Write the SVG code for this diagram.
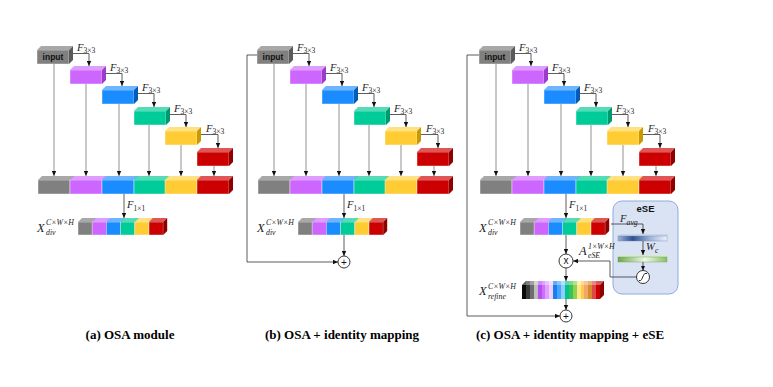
<svg xmlns="http://www.w3.org/2000/svg" xmlns:xlink="http://www.w3.org/1999/xlink" width="773" height="387" viewBox="0 0 773 387">
<style>
.gf{fill:#808080}.gt{fill:#a8a8a8}.gs{fill:#5a5a5a}
.pf{fill:#cc66ff}.pt{fill:#df9dff}.ps{fill:#9a3ccc}
.bf{fill:#1a8cff}.bt{fill:#6db6ff}.bs{fill:#005cb8}
.ef{fill:#00cc99}.et{fill:#55dbb6}.es{fill:#00996e}
.yf{fill:#ffcc33}.yt{fill:#ffe17f}.ys{fill:#c99a00}
.rf{fill:#cc0000}.rt{fill:#e05555}.rs{fill:#8c0000}
.fr{stroke:#ffffff;stroke-width:.6;stroke-opacity:.7}
.ln{stroke:#333;stroke-width:.8;fill:none}
.lv{stroke:#777;stroke-width:.8;fill:none}
.m{marker-end:url(#ah)}
.it{font-family:"Liberation Serif",serif;font-style:italic;fill:#222}
.f9{font-size:10.5px}
.f11{font-size:12.5px}
.sb{font-family:"Liberation Serif",serif;font-size:7.5px;fill:#222}
.ss{font-family:"Liberation Serif",serif;font-style:italic;font-size:7.8px;fill:#222}
.inp{font-family:"Liberation Sans",Arial,sans-serif;font-weight:bold;font-size:8.5px;text-anchor:middle;fill:#111}
.cap{font-family:"Liberation Serif",serif;font-weight:bold;font-size:13px;text-anchor:middle;fill:#000}
.op{fill:#fff;stroke:#222;stroke-width:.9}
.opt{font-family:"Liberation Sans",Arial,sans-serif;font-size:10px;text-anchor:middle;fill:#111}
</style>
<defs>
<marker id="ah" viewBox="0 0 8 8" refX="8" refY="4" markerWidth="5" markerHeight="5" markerUnits="userSpaceOnUse" orient="auto"><path d="M0,0.5 L8,4 L0,7.5 z" fill="#111"/></marker>
<g id="Bg"><rect class="gf fr" width="32" height="14"/><polygon class="gt" points="0,0 4,-4 36,-4 32,0"/><polygon class="gs" points="32,0 36,-4 36,10 32,14"/></g>
<g id="Bp"><rect class="pf fr" width="32" height="14"/><polygon class="pt" points="0,0 4,-4 36,-4 32,0"/><polygon class="ps" points="32,0 36,-4 36,10 32,14"/></g>
<g id="Bb"><rect class="bf fr" width="32" height="14"/><polygon class="bt" points="0,0 4,-4 36,-4 32,0"/><polygon class="bs" points="32,0 36,-4 36,10 32,14"/></g>
<g id="Be"><rect class="ef fr" width="32" height="14"/><polygon class="et" points="0,0 4,-4 36,-4 32,0"/><polygon class="es" points="32,0 36,-4 36,10 32,14"/></g>
<g id="By"><rect class="yf fr" width="32" height="14"/><polygon class="yt" points="0,0 4,-4 36,-4 32,0"/><polygon class="ys" points="32,0 36,-4 36,10 32,14"/></g>
<g id="Br"><rect class="rf fr" width="32" height="14"/><polygon class="rt" points="0,0 4,-4 36,-4 32,0"/><polygon class="rs" points="32,0 36,-4 36,10 32,14"/></g>
<g id="Sg"><rect class="gf fr" width="14.2" height="13"/><polygon class="gt" points="0,0 4,-4 18.2,-4 14.2,0"/><polygon class="gs" points="14.2,0 18.2,-4 18.2,9 14.2,13"/></g>
<g id="Sp"><rect class="pf fr" width="14.2" height="13"/><polygon class="pt" points="0,0 4,-4 18.2,-4 14.2,0"/><polygon class="ps" points="14.2,0 18.2,-4 18.2,9 14.2,13"/></g>
<g id="Sb"><rect class="bf fr" width="14.2" height="13"/><polygon class="bt" points="0,0 4,-4 18.2,-4 14.2,0"/><polygon class="bs" points="14.2,0 18.2,-4 18.2,9 14.2,13"/></g>
<g id="Se"><rect class="ef fr" width="14.2" height="13"/><polygon class="et" points="0,0 4,-4 18.2,-4 14.2,0"/><polygon class="es" points="14.2,0 18.2,-4 18.2,9 14.2,13"/></g>
<g id="Sy"><rect class="yf fr" width="14.2" height="13"/><polygon class="yt" points="0,0 4,-4 18.2,-4 14.2,0"/><polygon class="ys" points="14.2,0 18.2,-4 18.2,9 14.2,13"/></g>
<g id="Sr"><rect class="rf fr" width="14.2" height="13"/><polygon class="rt" points="0,0 4,-4 18.2,-4 14.2,0"/><polygon class="rs" points="14.2,0 18.2,-4 18.2,9 14.2,13"/></g>
<linearGradient id="refg" gradientUnits="userSpaceOnUse" x1="522" y1="0" x2="600" y2="0">
<stop offset="0" stop-color="#0a0a0a"/><stop offset=".05" stop-color="#0a0a0a"/>
<stop offset=".05" stop-color="#3a3a3a"/><stop offset=".1" stop-color="#3a3a3a"/>
<stop offset=".1" stop-color="#6e6e6e"/><stop offset=".15" stop-color="#6e6e6e"/>
<stop offset=".15" stop-color="#bdbdbd"/><stop offset=".2" stop-color="#bdbdbd"/>
<stop offset=".2" stop-color="#b84ef0"/><stop offset=".25" stop-color="#b84ef0"/>
<stop offset=".25" stop-color="#cc70ff"/><stop offset=".3" stop-color="#cc70ff"/>
<stop offset=".3" stop-color="#e0a0ff"/><stop offset=".35" stop-color="#e0a0ff"/>
<stop offset=".35" stop-color="#f2ccff"/><stop offset=".4" stop-color="#f2ccff"/>
<stop offset=".4" stop-color="#1580f0"/><stop offset=".45" stop-color="#1580f0"/>
<stop offset=".45" stop-color="#45a5ff"/><stop offset=".5" stop-color="#45a5ff"/>
<stop offset=".5" stop-color="#90ccff"/><stop offset=".55" stop-color="#90ccff"/>
<stop offset=".55" stop-color="#00c48a"/><stop offset=".6" stop-color="#00c48a"/>
<stop offset=".6" stop-color="#3cc05a"/><stop offset=".65" stop-color="#3cc05a"/>
<stop offset=".65" stop-color="#8fd24e"/><stop offset=".7" stop-color="#8fd24e"/>
<stop offset=".7" stop-color="#ffe68a"/><stop offset=".75" stop-color="#ffe68a"/>
<stop offset=".75" stop-color="#ffc94a"/><stop offset=".8" stop-color="#ffc94a"/>
<stop offset=".8" stop-color="#f0a868"/><stop offset=".85" stop-color="#f0a868"/>
<stop offset=".85" stop-color="#d9892e"/><stop offset=".9" stop-color="#d9892e"/>
<stop offset=".9" stop-color="#e04848"/><stop offset=".95" stop-color="#e04848"/>
<stop offset=".95" stop-color="#c80000"/><stop offset="1" stop-color="#c80000"/>
</linearGradient>
<linearGradient id="blueg" x1="0" y1="0" x2="1" y2="0">
<stop offset="0" stop-color="#9fb4d8"/><stop offset=".3" stop-color="#2f4f8f"/><stop offset=".65" stop-color="#9db3da"/><stop offset="1" stop-color="#eef2fa"/>
</linearGradient>
<linearGradient id="greeng" x1="0" y1="0" x2="1" y2="0">
<stop offset="0" stop-color="#6aa84f"/><stop offset=".55" stop-color="#eef8e8"/><stop offset="1" stop-color="#88bf66"/>
</linearGradient>
</defs>

<!-- ================= Panel (a) ================= -->
<g id="panel-a">
<g id="a-input" transform="translate(37,50)"><use href="#Bg"/><text class="inp" x="16" y="10">input</text></g>
<g id="a-conv1"><use href="#Bp" x="70" y="70"/></g>
<g id="a-conv2"><use href="#Bb" x="102" y="90"/></g>
<g id="a-conv3"><use href="#Be" x="134" y="111"/></g>
<g id="a-conv4"><use href="#By" x="165" y="131"/></g>
<g id="a-conv5"><use href="#Br" x="197" y="152"/></g>
<g id="a-concat"><use href="#Bg" x="38" y="180"/><use href="#Bp" x="70" y="180"/><use href="#Bb" x="102" y="180"/><use href="#Be" x="134" y="180"/><use href="#By" x="165" y="180"/><use href="#Br" x="197" y="180"/></g>
<g id="a-xdiv"><use href="#Sg" x="78" y="222"/><use href="#Sp" x="92.2" y="222"/><use href="#Sb" x="106.4" y="222"/><use href="#Se" x="120.6" y="222"/><use href="#Sy" x="134.8" y="222"/><use href="#Sr" x="149" y="222"/>
<text class="it f11" x="37" y="232">X</text><text class="ss" x="46" y="225">C×W×H</text><text class="ss" x="46" y="235">div</text></g>
<g id="a-connectors">
<path class="lv m" d="M54,64 V176"/><path class="lv m" d="M86,84 V176"/><path class="lv m" d="M119,104 V176"/><path class="lv m" d="M149,125 V176"/><path class="lv m" d="M181,145 V176"/><path class="lv m" d="M214,166 V176"/>
<path class="ln m" d="M73,53.5 H89 V66"/><path class="ln m" d="M106,73.5 H122 V86"/><path class="ln m" d="M138,93.5 H154 V107"/><path class="ln m" d="M170,114.5 H186 V127"/><path class="ln m" d="M201,134.5 H218 V148"/>
<path class="ln m" d="M124,194 V218"/>
<text class="it f9" x="77" y="50.5">F</text><text class="sb" x="83.5" y="53">3×3</text>
<text class="it f9" x="110" y="70.5">F</text><text class="sb" x="116.5" y="73">3×3</text>
<text class="it f9" x="142" y="90.5">F</text><text class="sb" x="148.5" y="93">3×3</text>
<text class="it f9" x="174" y="111.5">F</text><text class="sb" x="180.5" y="114">3×3</text>
<text class="it f9" x="206" y="131.5">F</text><text class="sb" x="212.5" y="134">3×3</text>
<text class="it f9" x="127" y="208">F</text><text class="sb" x="133.5" y="210.5">1×1</text>
</g>
</g>

<!-- ================= Panel (b) ================= -->
<g id="panel-b" transform="translate(220,0)">
<g id="b-input" transform="translate(37,50)"><use href="#Bg"/><text class="inp" x="16" y="10">input</text></g>
<g id="b-conv1"><use href="#Bp" x="70" y="70"/></g>
<g id="b-conv2"><use href="#Bb" x="102" y="90"/></g>
<g id="b-conv3"><use href="#Be" x="134" y="111"/></g>
<g id="b-conv4"><use href="#By" x="165" y="131"/></g>
<g id="b-conv5"><use href="#Br" x="197" y="152"/></g>
<g id="b-concat"><use href="#Bg" x="38" y="180"/><use href="#Bp" x="70" y="180"/><use href="#Bb" x="102" y="180"/><use href="#Be" x="134" y="180"/><use href="#By" x="165" y="180"/><use href="#Br" x="197" y="180"/></g>
<g id="b-xdiv"><use href="#Sg" x="78" y="222"/><use href="#Sp" x="92.2" y="222"/><use href="#Sb" x="106.4" y="222"/><use href="#Se" x="120.6" y="222"/><use href="#Sy" x="134.8" y="222"/><use href="#Sr" x="149" y="222"/>
<text class="it f11" x="37" y="232">X</text><text class="ss" x="46" y="225">C×W×H</text><text class="ss" x="46" y="235">div</text></g>
<g id="b-add"><circle class="op" cx="124" cy="262" r="6"/><text class="opt" x="124" y="265.5">+</text></g>
<g id="b-connectors">
<path class="lv m" d="M54,64 V176"/><path class="lv m" d="M86,84 V176"/><path class="lv m" d="M119,104 V176"/><path class="lv m" d="M149,125 V176"/><path class="lv m" d="M181,145 V176"/><path class="lv m" d="M214,166 V176"/>
<path class="ln m" d="M73,53.5 H89 V66"/><path class="ln m" d="M106,73.5 H122 V86"/><path class="ln m" d="M138,93.5 H154 V107"/><path class="ln m" d="M170,114.5 H186 V127"/><path class="ln m" d="M201,134.5 H218 V148"/>
<path class="ln m" d="M124,194 V218"/>
<path class="ln m" d="M124,235 V256"/>
<path class="ln m" d="M37,55 H27 V262 H118"/>
<text class="it f9" x="77" y="50.5">F</text><text class="sb" x="83.5" y="53">3×3</text>
<text class="it f9" x="110" y="70.5">F</text><text class="sb" x="116.5" y="73">3×3</text>
<text class="it f9" x="142" y="90.5">F</text><text class="sb" x="148.5" y="93">3×3</text>
<text class="it f9" x="174" y="111.5">F</text><text class="sb" x="180.5" y="114">3×3</text>
<text class="it f9" x="206" y="131.5">F</text><text class="sb" x="212.5" y="134">3×3</text>
<text class="it f9" x="127" y="208">F</text><text class="sb" x="133.5" y="210.5">1×1</text>
</g>
</g>

<!-- ================= Panel (c) ================= -->
<g id="panel-c">
<g transform="translate(442,0)">
<g id="c-input" transform="translate(37,50)"><use href="#Bg"/><text class="inp" x="16" y="10">input</text></g>
<g id="c-conv1"><use href="#Bp" x="70" y="70"/></g>
<g id="c-conv2"><use href="#Bb" x="102" y="90"/></g>
<g id="c-conv3"><use href="#Be" x="134" y="111"/></g>
<g id="c-conv4"><use href="#By" x="165" y="131"/></g>
<g id="c-conv5"><use href="#Br" x="197" y="152"/></g>
<g id="c-concat"><use href="#Bg" x="38" y="180"/><use href="#Bp" x="70" y="180"/><use href="#Bb" x="102" y="180"/><use href="#Be" x="134" y="180"/><use href="#By" x="165" y="180"/><use href="#Br" x="197" y="180"/></g>
<g id="c-xdiv"><use href="#Sg" x="78" y="222"/><use href="#Sp" x="92.2" y="222"/><use href="#Sb" x="106.4" y="222"/><use href="#Se" x="120.6" y="222"/><use href="#Sy" x="134.8" y="222"/><use href="#Sr" x="149" y="222"/>
<text class="it f11" x="37" y="232">X</text><text class="ss" x="46" y="225">C×W×H</text><text class="ss" x="46" y="235">div</text></g>
</g>
<g id="c-ese">
<rect x="613" y="201" width="65" height="93" rx="9" fill="#dae3f3" stroke="#8faadc" stroke-width="1"/>
<text x="645.5" y="212" font-family="Liberation Sans, Arial, sans-serif" font-weight="bold" font-size="9.5" text-anchor="middle" fill="#111">eSE</text>
<polygon points="618,236 620,234 669,234 667,236" fill="#c9d5ea"/>
<rect x="618" y="236" width="49" height="5" fill="url(#blueg)" stroke="#6f86b3" stroke-width=".4"/>
<polygon points="618,257 620,255 669,255 667,257" fill="#d7ebcb"/>
<rect x="618" y="257" width="49" height="5" fill="url(#greeng)" stroke="#6a9a50" stroke-width=".4"/>
<circle class="op" cx="643" cy="277" r="6.5"/>
<path d="M639,280.5 H640.5 C642,280.5 643.5,273.5 645,273.5 H647" fill="none" stroke="#111" stroke-width=".9"/>
<text class="it f9" x="620" y="222">F</text><text class="ss" x="626.5" y="225">avg</text>
<text class="it f9" x="646" y="250">W</text><text class="ss" x="655" y="252.5">c</text>
</g>
<g id="c-mul"><circle class="op" cx="566" cy="261" r="7"/><text class="opt" x="566" y="264.3">x</text></g>
<g id="c-xrefine">
<rect x="522" y="285" width="78" height="14" fill="url(#refg)"/>
<polygon points="522,285 526,281 604,281 600,285" fill="url(#refg)"/>
<polygon points="522,285 526,281 604,281 600,285" fill="#fff" fill-opacity=".35"/>
<polygon points="600,285 604,281 604,295 600,299" fill="#8c0000"/>
<text class="it f11" x="479" y="295">X</text><text class="ss" x="488" y="288.5">C×W×H</text><text class="ss" x="488" y="298.5">refine</text>
</g>
<g id="c-add"><circle class="op" cx="566" cy="316" r="6"/><text class="opt" x="566" y="319.5">+</text></g>
<g id="c-connectors">
<g transform="translate(442,0)">
<path class="lv m" d="M54,64 V176"/><path class="lv m" d="M86,84 V176"/><path class="lv m" d="M119,104 V176"/><path class="lv m" d="M149,125 V176"/><path class="lv m" d="M181,145 V176"/><path class="lv m" d="M214,166 V176"/>
<path class="ln m" d="M73,53.5 H89 V66"/><path class="ln m" d="M106,73.5 H122 V86"/><path class="ln m" d="M138,93.5 H154 V107"/><path class="ln m" d="M170,114.5 H186 V127"/><path class="ln m" d="M201,134.5 H218 V148"/>
<path class="ln m" d="M124,194 V218"/>
<text class="it f9" x="77" y="50.5">F</text><text class="sb" x="83.5" y="53">3×3</text>
<text class="it f9" x="110" y="70.5">F</text><text class="sb" x="116.5" y="73">3×3</text>
<text class="it f9" x="142" y="90.5">F</text><text class="sb" x="148.5" y="93">3×3</text>
<text class="it f9" x="174" y="111.5">F</text><text class="sb" x="180.5" y="114">3×3</text>
<text class="it f9" x="206" y="131.5">F</text><text class="sb" x="212.5" y="134">3×3</text>
<text class="it f9" x="127" y="208">F</text><text class="sb" x="133.5" y="210.5">1×1</text>
</g>
<path class="ln m" d="M479,55 H467 V316 H560"/>
<path class="ln m" d="M566,235 V254"/>
<path class="ln m" d="M566,268 V281"/>
<path class="ln m" d="M566,299 V310"/>
<path class="ln m" d="M611,224 H643 V234"/>
<path class="ln m" d="M643,241 V255"/>
<path class="ln m" d="M643,262 V270.5"/>
<path class="ln m" d="M636.5,277 H610 V261 H573"/>
<text class="it f11" x="579" y="255">A</text><text class="ss" x="588" y="248.5">1×W×H</text><text class="ss" x="588" y="258">eSE</text>
</g>
</g>

<g id="captions">
<text class="cap" x="130" y="339">(a) OSA module</text>
<text class="cap" x="342" y="339">(b) OSA + identity mapping</text>
<text class="cap" x="570" y="339">(c) OSA + identity mapping + eSE</text>
</g>
</svg>
